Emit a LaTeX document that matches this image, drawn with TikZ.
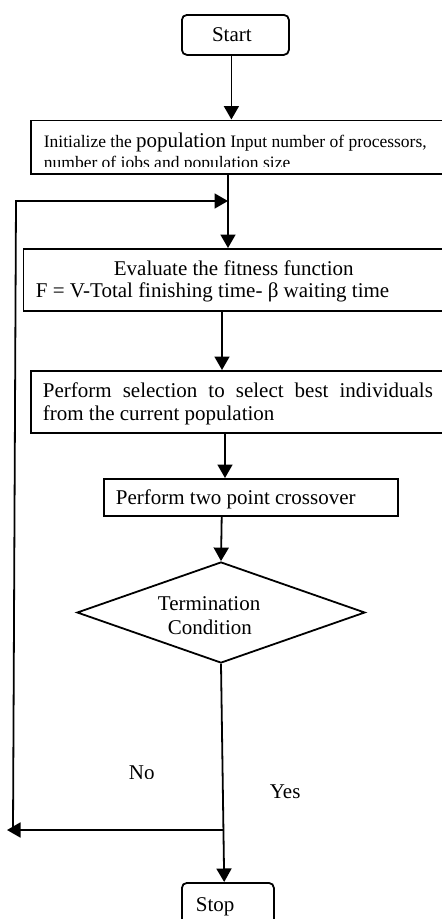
\documentclass[tikz,border=0pt]{standalone}
\usepackage{fontspec}
\setmainfont{Liberation Serif}
\usetikzlibrary{arrows.meta,shapes.geometric}
\begin{document}
\begin{tikzpicture}[x=1pt,y=-1pt,
  line width=1.8pt,
  box/.style={draw, rectangle, inner sep=0pt, anchor=north west, line width=1.8pt},
  rbox/.style={box, rounded corners=5pt},
  arr/.style={-{Triangle[length=13.5pt,width=15pt]}},
  big/.style={font=\fontsize{21}{25}\selectfont},
  lbl/.style={big, inner sep=0pt, anchor=base west},
]
\clip (0,0) rectangle (442,919);
\fill[white] (0,0) rectangle (442,919);

% boxes
\node[rbox, big, minimum width=107pt, minimum height=40pt] (start) at (181,14) {\hspace*{-7pt}Start};
\node[box, minimum width=440pt, minimum height=53.5pt] (init) at (30,119.5) {};
\node[box, minimum width=440pt, minimum height=62pt] (eval) at (22.5,248) {};
\node[box, minimum width=440pt, minimum height=62pt] (sel) at (30,370) {};
\node[box, minimum width=294pt, minimum height=37pt] (cross) at (103,478) {};
\node[draw, diamond, aspect=2.85, minimum width=288pt, minimum height=101pt, inner sep=0pt] (dia) at (221,612.5) {};
\node[rbox, minimum width=92pt, minimum height=60pt] (stop) at (181,882) {};

% texts
\node[lbl, font=\fontsize{17.5}{21}\selectfont] (t1) at (43,147) {Initialize the {\fontsize{21}{25}\selectfont population} Input number of processors,};
\begin{scope}
  \clip (0,0) rectangle (442,166.5);
  \node[lbl, font=\fontsize{17.5}{21}\selectfont] (t2) at (43,168.5) {number of jobs and population size};
\end{scope}
\node[lbl] (t3) at (113,275) {Evaluate the fitness function};
\node[lbl] (t4) at (35,297) {F = V-Total finishing time- β waiting time};
\node[lbl] (t5) at (42,397) {\makebox[390pt][s]{Perform selection to select best individuals}};
\node[lbl] (t6) at (42,420) {from the current population};
\node[lbl] (t7) at (115,504) {Perform two point crossover};
\node[lbl] (t8) at (157,610) {Termination};
\node[lbl] (t9) at (167,634) {Condition};
\begin{scope}
  \clip (0,0) rectangle (442,778);
  \node[lbl] (tno) at (128,779.5) {No};
\end{scope}
\node[lbl] (tyes) at (269,798) {Yes};
\node[lbl] (tstop) at (195,911) {Stop};

% coordinates
\coordinate (j1) at (228,201);
\coordinate (lefttop) at (16,201);
\coordinate (leftbot) at (13,831);
\coordinate (branch) at (222.8,830);
\coordinate (leftend) at (7,830);

% connectors
\draw[arr] ([xshift=-4pt]start.south) -- ([xshift=-4pt]start.south |- init.north);
\draw[arr] (init.south -| j1) -- (eval.north -| j1);
\draw[arr] (leftbot) -- (lefttop) -- (j1);
\draw[arr] ([xshift=199.5pt]eval.south west) -- ([xshift=192pt]sel.north west);
\draw[arr] ([xshift=195pt]sel.south west) -- ([xshift=122pt]cross.north west);
\draw[arr] ([xshift=118.7pt]cross.south west) -- (dia.north);
\draw[arr] (dia.south) -- ([xshift=-3.7pt]stop.north);
\draw[arr] (branch) -- (leftend);
\end{tikzpicture}
\end{document}
